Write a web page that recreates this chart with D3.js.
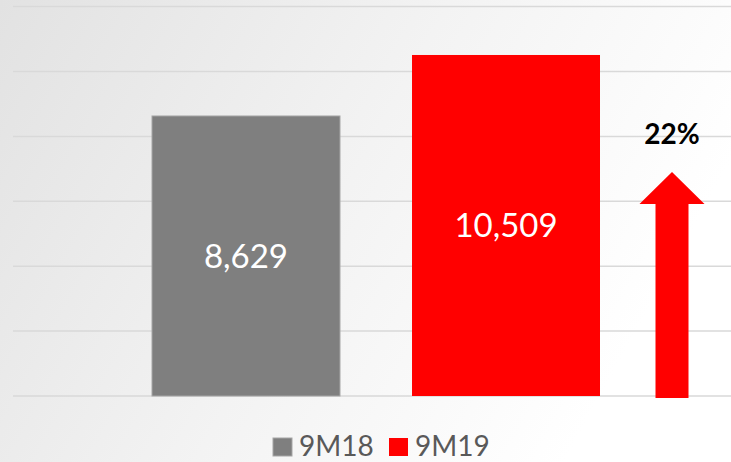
<!DOCTYPE html>
<html>
<head>
<meta charset="utf-8">
<script src="https://cdn.jsdelivr.net/npm/d3@7"></script>
<style>
  html, body { margin: 0; padding: 0; }
  svg { display: block; }
</style>
</head>
<body>
<div id="chart"></div>
<script>
var periods = ["9M18", "9M19"];
var values = [8629, 10509];
var colors = ["#7f7f7f", "#ff0000"];
var gridTicks = [0, 2000, 4000, 6000, 8000, 10000, 12000];

var width = 731, height = 462;

var svg = d3.select("#chart")
  .append("svg")
  .attr("width", width)
  .attr("height", height);

var defs = svg.append("defs");
var grad = defs.append("linearGradient")
  .attr("id", "bg")
  .attr("x1", 0).attr("y1", 0)
  .attr("x2", 1).attr("y2", 0.35);
grad.append("stop").attr("offset", "0%").attr("stop-color", "#e2e2e2");
grad.append("stop").attr("offset", "55%").attr("stop-color", "#f3f3f3");
grad.append("stop").attr("offset", "100%").attr("stop-color", "#ffffff");

svg.append("rect")
  .attr("width", width)
  .attr("height", height)
  .attr("fill", "url(#bg)");

var x = d3.scaleBand().domain(periods).range([152, 600]).paddingInner(0.277).paddingOuter(0);
var y = d3.scaleLinear().domain([0, 12000]).range([396, 6.6]);

// gridlines
svg.append("g")
  .selectAll("line")
  .data(gridTicks)
  .join("line")
  .attr("x1", 13)
  .attr("x2", width)
  .attr("y1", (d) => y(d))
  .attr("y2", (d) => y(d))
  .style("stroke", "#d9d9d9")
  .style("stroke-width", 1.5);

// bars
svg.append("g")
  .selectAll("rect")
  .data(periods)
  .join("rect")
  .attr("x", (d) => x(d))
  .attr("width", x.bandwidth())
  .attr("y", (d, i) => y(values[i]))
  .attr("height", (d, i) => y(0) - y(values[i]))
  .style("fill", (d, i) => colors[i])
  .style("stroke", (d, i) => (i == 0 ? "#a6a6a6" : "none"))
  .style("stroke-width", 1);

// value labels
svg.append("g")
  .selectAll("text")
  .data(periods)
  .join("text")
  .attr("x", (d) => x(d) + x.bandwidth() / 2)
  .attr("y", (d, i) => (y(values[i]) + y(0)) / 2)
  .attr("dy", "0.36em")
  .attr("text-anchor", "middle")
  .style("font-family", "Lato, 'Open Sans', sans-serif")
  .style("font-size", "33px")
  .style("fill", "#ffffff")
  .text((d, i) => d3.format(",")(values[i]));

// growth arrow
var growth = values[1] / values[0] - 1;
var ax = x(periods[1]) + x.bandwidth() + 72; // arrow centre
var tipY = 172, headY = 204;
var arrow = d3.path();
arrow.moveTo(ax, tipY);
arrow.lineTo(ax + 32.5, headY);
arrow.lineTo(ax + 16.5, headY);
arrow.lineTo(ax + 16.5, y(0) + 2);
arrow.lineTo(ax - 16.5, y(0) + 2);
arrow.lineTo(ax - 16.5, headY);
arrow.lineTo(ax - 32.5, headY);
arrow.closePath();
svg.append("path")
  .attr("d", arrow.toString())
  .style("fill", "#ff0000");

svg.append("text")
  .attr("x", ax)
  .attr("y", 144)
  .attr("text-anchor", "middle")
  .style("font-family", "Lato, 'Open Sans', sans-serif")
  .style("font-weight", "bold")
  .style("font-size", "28px")
  .style("fill", "#000000")
  .text(d3.format(".0%")(growth));

// legend
var legendX = [273, 389];
var legend = svg.append("g")
  .selectAll("g")
  .data(periods)
  .join("g")
  .attr("transform", (d, i) => `translate(${legendX[i]}, 438)`);
legend.append("rect")
  .attr("width", 19)
  .attr("height", 18)
  .style("fill", (d, i) => colors[i])
  .style("stroke", (d, i) => (i == 0 ? "#a6a6a6" : "none"));
legend.append("text")
  .attr("x", 26)
  .attr("y", 18)
  .style("font-family", "Lato, 'Open Sans', sans-serif")
  .style("font-size", "28px")
  .style("fill", "#595959")
  .text((d) => d);
</script>
</body>
</html>
